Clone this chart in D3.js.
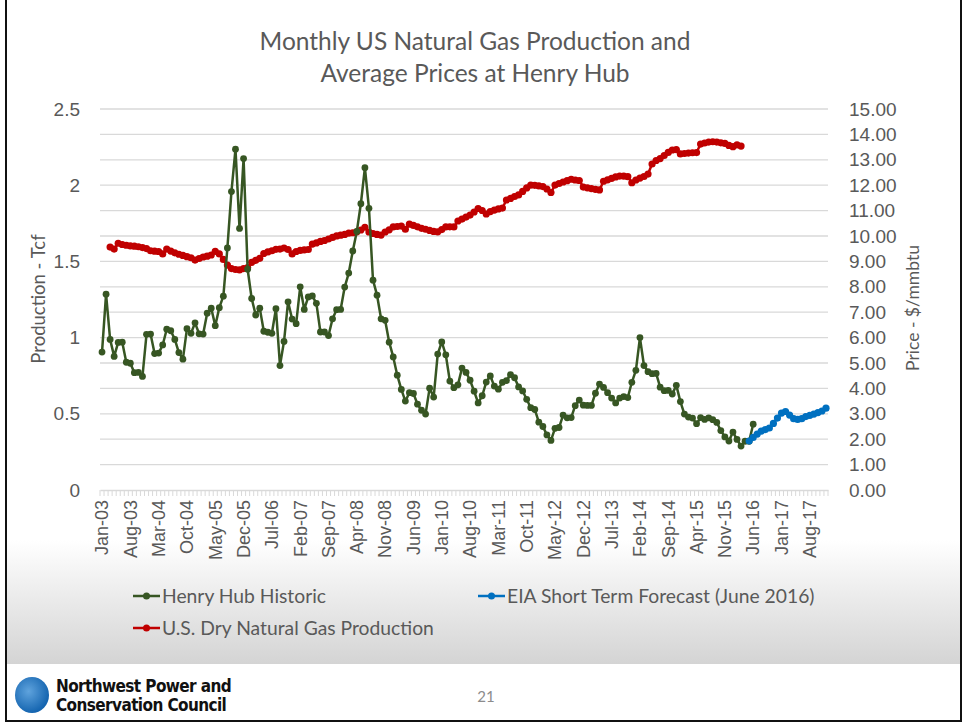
<!DOCTYPE html>
<html>
<head>
<meta charset="utf-8">
<script src="https://cdn.jsdelivr.net/npm/d3@7"></script>
<style>
  body { margin: 0; background: #fff; }
  svg { display: block; font-family: Lato, "Open Sans", sans-serif; }
</style>
</head>
<body>
<div id="container"></div>
<script>
// monthly categories Jan-03 .. Dec-17, labels every 7th month
let firstMonth = new Date(2003, 0, 1);
let lastMonth = new Date(2017, 11, 1);
let fmt = d3.timeFormat("%b-%y");
let months = d3.timeMonth.range(firstMonth, d3.timeMonth.offset(lastMonth, 1)).map(fmt);

// Henry Hub historic, $/mmbtu, starts Jan-03
let henryHubStart = "Jan-03";
let henryHub = [
  5.43, 7.71, 5.93, 5.26, 5.81, 5.82, 5.03, 4.99, 4.62, 4.63, 4.47, 6.13,
  6.14, 5.37, 5.39, 5.71, 6.33, 6.27, 5.93, 5.41, 5.15, 6.35, 6.17, 6.58,
  6.15, 6.14, 6.96, 7.16, 6.47, 7.18, 7.63, 9.53, 11.75, 13.42, 10.30, 13.05,
  8.69, 7.54, 6.89, 7.16, 6.25, 6.21, 6.17, 7.14, 4.90, 5.85, 7.41, 6.73,
  6.55, 8.00, 7.11, 7.60, 7.64, 7.35, 6.22, 6.22, 6.08, 6.74, 7.10, 7.11,
  7.99, 8.54, 9.41, 10.18, 11.27, 12.69, 11.09, 8.26, 7.67, 6.74, 6.68, 5.82,
  5.24, 4.52, 3.96, 3.50, 3.83, 3.80, 3.38, 3.14, 2.99, 4.01, 3.66, 5.35,
  5.83, 5.32, 4.29, 4.03, 4.14, 4.80, 4.63, 4.32, 3.89, 3.43, 3.71, 4.25,
  4.49, 4.09, 3.97, 4.24, 4.31, 4.54, 4.42, 4.06, 3.90, 3.57, 3.24, 3.17,
  2.67, 2.50, 2.17, 1.95, 2.43, 2.46, 2.95, 2.84, 2.85, 3.32, 3.54, 3.34,
  3.33, 3.33, 3.81, 4.17, 4.04, 3.83, 3.62, 3.43, 3.62, 3.68, 3.64, 4.24,
  4.71, 6.00, 4.90, 4.66, 4.58, 4.59, 4.05, 3.91, 3.92, 3.78, 4.12, 3.48,
  2.99, 2.87, 2.83, 2.61, 2.85, 2.78, 2.84, 2.77, 2.66, 2.34, 2.09, 1.93,
  2.28, 1.99, 1.73, 1.92, 1.92, 2.59
];

// EIA short term forecast (June 2016), starts May-16
let forecastStart = "May-16";
let forecast = [
  1.93, 2.07, 2.20, 2.32, 2.38, 2.44, 2.62, 2.83, 3.03, 3.09,
  2.95, 2.81, 2.78, 2.81, 2.89, 2.94, 2.99, 3.05, 3.11, 3.22
];

// US dry gas production, Tcf, starts Mar-03
let productionStart = "Mar-03";
let production = [
  1.594, 1.581, 1.619, 1.611, 1.606, 1.602, 1.600, 1.596, 1.591, 1.584,
  1.570, 1.567, 1.565, 1.549, 1.581, 1.568, 1.556, 1.547, 1.539, 1.531,
  1.524, 1.509, 1.519, 1.529, 1.534, 1.542, 1.566, 1.549, 1.513, 1.476,
  1.453, 1.447, 1.444, 1.453, 1.460, 1.494, 1.507, 1.520, 1.552, 1.562,
  1.570, 1.579, 1.581, 1.588, 1.578, 1.549, 1.565, 1.572, 1.575, 1.578,
  1.614, 1.621, 1.631, 1.637, 1.647, 1.657, 1.667, 1.672, 1.677, 1.686,
  1.688, 1.694, 1.706, 1.724, 1.693, 1.683, 1.677, 1.673, 1.693, 1.707,
  1.726, 1.729, 1.732, 1.711, 1.744, 1.736, 1.727, 1.717, 1.711, 1.703,
  1.697, 1.694, 1.709, 1.726, 1.727, 1.726, 1.765, 1.778, 1.791, 1.804,
  1.824, 1.847, 1.834, 1.811, 1.827, 1.837, 1.844, 1.850, 1.903, 1.913,
  1.926, 1.936, 1.959, 1.982, 2.000, 1.999, 1.995, 1.991, 1.975, 1.952,
  2.001, 2.011, 2.021, 2.030, 2.039, 2.034, 2.031, 1.988, 1.983, 1.978,
  1.973, 1.969, 2.026, 2.035, 2.045, 2.054, 2.060, 2.059, 2.056, 2.016,
  2.034, 2.047, 2.057, 2.073, 2.139, 2.162, 2.175, 2.195, 2.215, 2.231,
  2.234, 2.205, 2.208, 2.211, 2.213, 2.214, 2.270, 2.277, 2.283, 2.285,
  2.283, 2.278, 2.274, 2.261, 2.253, 2.264, 2.257
];

let leftTicks = [0, 0.5, 1, 1.5, 2, 2.5];
let rightTicks = d3.range(0, 16);

let w = 967;
let h = 723;
let plotLeft = 100, plotRight = 828, plotTop = 109, plotBottom = 490;

let textGrey = "#595959";
let gridGrey = "#d9d9d9";
let green = "#375623";
let red = "#c00000";
let blue = "#0070c0";

let viz = d3.select("#container")
  .append("svg")
    .attr("width", w)
    .attr("height", h);

// background gradient behind legend
let defs = viz.append("defs");
let grad = defs.append("linearGradient")
    .attr("id", "legend-grad")
    .attr("x1", 0).attr("x2", 0).attr("y1", 0).attr("y2", 1);
grad.append("stop").attr("offset", 0).attr("stop-color", "#ffffff");
grad.append("stop").attr("offset", 1).attr("stop-color", "#d4d4d4");

viz.append("rect")
    .attr("x", 6).attr("y", 540)
    .attr("width", 955).attr("height", 124)
    .attr("fill", "url(#legend-grad)");

// scales
let xScale = d3.scaleBand().domain(months).range([plotLeft, plotRight]);
let yLeft = d3.scaleLinear().domain([0, 2.5]).range([plotBottom, plotTop]);
let yRight = d3.scaleLinear().domain([0, 15]).range([plotBottom, plotTop]);

function xCenter(label) {
  return xScale(label) + xScale.bandwidth() / 2;
}

// gridlines (right axis units)
viz.append("g")
  .selectAll("line")
  .data(rightTicks.filter(d => d > 0))
  .enter()
  .append("line")
    .attr("x1", plotLeft).attr("x2", plotRight)
    .attr("y1", d => yRight(d)).attr("y2", d => yRight(d))
    .attr("stroke", gridGrey)
    .attr("stroke-width", 1.3);

// x axis line + month ticks
let xAxis = d3.axisBottom(xScale)
    .tickValues(months.filter((d, i) => i % 7 == 0))
    .tickSize(0)
    .tickPadding(8);

viz.append("g")
  .selectAll("line")
  .data(months.concat(["end"]))
  .enter()
  .append("line")
    .attr("x1", (d, i) => plotLeft + i * xScale.bandwidth())
    .attr("x2", (d, i) => plotLeft + i * xScale.bandwidth())
    .attr("y1", plotBottom).attr("y2", plotBottom + 6)
    .attr("stroke", gridGrey)
    .attr("stroke-width", 1);

let xg = viz.append("g")
    .attr("transform", "translate(0," + plotBottom + ")")
    .call(xAxis);
xg.select(".domain").attr("stroke", gridGrey).attr("stroke-width", 1.3);
xg.selectAll("text")
    .attr("fill", textGrey)
    .style("font-size", "18px")
    .attr("text-anchor", "end")
    .attr("dy", "0.35em")
    .attr("transform", "rotate(-90)")
    .attr("x", -10)
    .attr("y", 0);

// left axis
let lg = viz.append("g")
    .attr("transform", "translate(" + (plotLeft - 17) + ",0)")
    .call(d3.axisLeft(yLeft).tickValues(leftTicks).tickSize(0).tickFormat(d3.format("")));
lg.select(".domain").remove();
lg.selectAll("text").attr("fill", textGrey).style("font-size", "19px");

// right axis
let rg = viz.append("g")
    .attr("transform", "translate(" + (plotRight + 18) + ",0)")
    .call(d3.axisRight(yRight).tickValues(rightTicks).tickSize(0).tickFormat(d3.format(".2f")));
rg.select(".domain").remove();
rg.selectAll("text").attr("fill", textGrey).style("font-size", "19px");

// axis titles
viz.append("text")
    .attr("transform", "translate(45,299) rotate(-90)")
    .attr("text-anchor", "middle")
    .attr("fill", textGrey)
    .style("font-size", "18.5px")
    .text("Production - Tcf");

viz.append("text")
    .attr("transform", "translate(919,308) rotate(-90)")
    .attr("text-anchor", "middle")
    .attr("fill", textGrey)
    .style("font-size", "17.5px")
    .text("Price - $/mmbtu");

// title
let title = viz.append("text")
    .attr("text-anchor", "middle")
    .attr("fill", textGrey)
    .style("font-size", "24.5px");
title.append("tspan").attr("x", 475).attr("y", 50).text("Monthly US Natural Gas Production and");
title.append("tspan").attr("x", 475).attr("y", 82).text("Average Prices at Henry Hub");

// series
function toPoints(values, start) {
  let offset = months.indexOf(start);
  return values.map(function(v, i) { return { label: months[offset + i], value: v }; });
}

function drawSeries(points, yScale, color, r) {
  let line = d3.line()
      .x(d => xCenter(d.label))
      .y(d => yScale(d.value));
  let g = viz.append("g");
  g.append("path")
      .datum(points)
      .attr("d", line)
      .attr("fill", "none")
      .attr("stroke", color)
      .attr("stroke-width", 2.5)
      .attr("stroke-linejoin", "round");
  g.selectAll("circle")
    .data(points)
    .enter()
    .append("circle")
      .attr("cx", d => xCenter(d.label))
      .attr("cy", d => yScale(d.value))
      .attr("r", r)
      .attr("fill", color);
}

drawSeries(toPoints(production, productionStart), yLeft, red, 3.6);
drawSeries(toPoints(henryHub, henryHubStart), yRight, green, 3.4);
drawSeries(toPoints(forecast, forecastStart), yRight, blue, 3.6);

// legend
let legendItems = [
  { name: "Henry Hub Historic", color: green, x: 133, y: 596 },
  { name: "EIA Short Term Forecast (June 2016)", color: blue, x: 478, y: 596 },
  { name: "U.S. Dry Natural Gas Production", color: red, x: 133, y: 628 }
];
let legend = viz.selectAll(".legend").data(legendItems).enter()
  .append("g")
    .attr("class", "legend")
    .attr("transform", d => "translate(" + d.x + "," + d.y + ")");
legend.append("line")
    .attr("x1", 0).attr("x2", 27).attr("y1", 0).attr("y2", 0)
    .attr("stroke", d => d.color)
    .attr("stroke-width", 2.5);
legend.append("circle")
    .attr("cx", 13.5).attr("cy", 0).attr("r", 3.5)
    .attr("fill", d => d.color);
legend.append("text")
    .attr("x", 29).attr("y", 0).attr("dy", "0.35em")
    .attr("fill", textGrey)
    .style("font-size", "19.3px")
    .text(d => d.name);

// footer
let globe = defs.append("radialGradient").attr("id", "globe-grad")
    .attr("cx", "40%").attr("cy", "40%").attr("r", "60%");
globe.append("stop").attr("offset", 0).attr("stop-color", "#5fa3dd");
globe.append("stop").attr("offset", 1).attr("stop-color", "#1565b0");
viz.append("ellipse")
    .attr("cx", 32).attr("cy", 695).attr("rx", 17).attr("ry", 18)
    .attr("fill", "url(#globe-grad)");

let logo = viz.append("text")
    .attr("fill", "#111")
    .style("font-family", "'Liberation Sans Narrow', 'DejaVu Sans Condensed', sans-serif")
    .style("font-weight", "bold")
    .style("font-size", "17px")
    .style("letter-spacing", "-0.6px");
logo.append("tspan").attr("x", 56).attr("y", 692).text("Northwest Power and");
logo.append("tspan").attr("x", 56).attr("y", 711).text("Conservation Council");

viz.append("text")
    .attr("x", 486).attr("y", 702)
    .attr("text-anchor", "middle")
    .attr("fill", "#8c8c8c")
    .style("font-size", "15px")
    .text("21");

// slide frame
viz.append("rect")
    .attr("x", 6).attr("y", -4)
    .attr("width", 955).attr("height", 725)
    .attr("fill", "none")
    .attr("stroke", "#111")
    .attr("stroke-width", 2);
</script>
</body>
</html>
